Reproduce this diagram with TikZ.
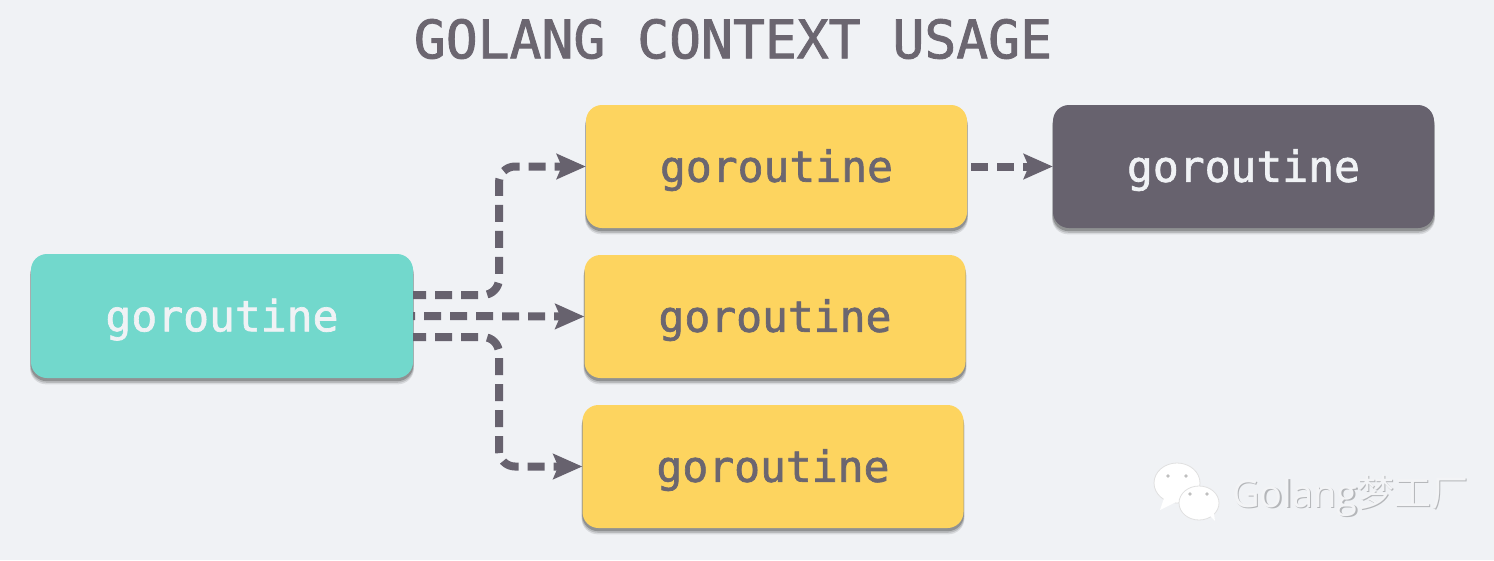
\documentclass[tikz,border=0pt]{standalone}
\usepackage{fontspec}
\usetikzlibrary{arrows.meta,shadows,positioning}
\newfontfamily\monofake[FakeBold=1.6]{DejaVu Sans Mono}
\newfontfamily\wmlatin{Open Sans}
\newfontfamily\wmcjk{Noto Sans CJK SC}
\definecolor{bgc}{HTML}{F0F2F5}
\definecolor{tealc}{HTML}{72D8CC}
\definecolor{yellowc}{HTML}{FDD45F}
\definecolor{darkc}{HTML}{67626E}
\definecolor{inkc}{HTML}{6B6670}
\definecolor{wmc}{HTML}{B4B6B9}
\definecolor{wmt}{HTML}{F3F4F6}
\tikzset{
  x=1pt,y=-1pt,
  box/.style={rounded corners=16pt,minimum width=381pt,minimum height=123pt,inner sep=0pt,
    text height=31pt,text depth=0.4pt,
    font=\monofake\fontsize{43}{43}\selectfont,
    general shadow={shadow xshift=0pt,shadow yshift=-6pt,shadow scale=1.005,opacity=.10,fill=black},
    general shadow={shadow xshift=0pt,shadow yshift=-4.5pt,shadow scale=1.004,opacity=.14,fill=black},
    general shadow={shadow xshift=0pt,shadow yshift=-3pt,shadow scale=1.002,opacity=.22,fill=black}},
  tealbox/.style={box,fill=tealc,text=bgc},
  yellowbox/.style={box,fill=yellowc,text=inkc},
  darkbox/.style={box,fill=darkc,text=bgc},
  conn/.style={draw=darkc,line width=8pt,dash pattern=on 17pt off 9pt,rounded corners=16pt,
    -{Stealth[length=29pt,width=25pt,inset=5pt,fill=darkc]}},
  titletext/.style={font=\monofake\fontsize{53}{53}\selectfont,text=inkc,inner sep=0pt},
  wmshadow/.style={text=wmc,inner sep=0pt,anchor=base west},
  wmtext/.style={text=wmt,inner sep=0pt,anchor=base west},
  bubble/.style={fill=white,draw=black!12,line width=.8pt},
  eye/.style={fill=black!25,draw=none}
}
\begin{document}
\begin{tikzpicture}
\useasboundingbox[fill=bgc] (0,0) rectangle (1494,560);
\node[titletext] (title) at (733,39) {GOLANG CONTEXT USAGE};
\node[tealbox,minimum width=382pt,minimum height=124pt] (root) at (222,316) {goroutine};
\node[yellowbox] (y1) at (776.5,166.5) {goroutine};
\node[yellowbox] (y2) at (775,316.5) {goroutine};
\node[yellowbox] (y3) at (773,466.5) {goroutine};
\node[darkbox] (d1) at (1243.5,166.5) {goroutine};
\coordinate (r1) at ([yshift=21pt]root.east);
\coordinate (r2) at (root.east);
\coordinate (r3) at ([yshift=-21pt]root.east);
\path[conn,dash phase=4pt] (r1) -- (499,295) -- (499,166.5) -- (y1.west);
\path[conn,dash phase=15pt] (r2) -- (y2.west);
\path[conn,dash phase=4pt] (r3) -- (499,337) -- (499,466.5) -- (y3.west);
\path[conn,dash phase=22pt] (y1.east) -- (d1.west);
% watermark icon
\fill[bubble] (1177,483) ellipse [x radius=23,y radius=20];
\fill[white] (1165,495) -- (1160,510) -- (1178,501) -- cycle;
\fill[bubble] (1199,503) ellipse [x radius=20,y radius=17];
\fill[white] (1206,512) -- (1215,521) -- (1213,506) -- cycle;
\fill[eye] (1168,476) circle (1.8) (1186,476) circle (1.8) (1190,494) circle (1.8) (1207,494) circle (1.8);
% watermark text
\node[wmshadow,font=\wmlatin\fontsize{38}{38}\selectfont] (wa) at (1233.2,508.4) {Golang};
\node[wmshadow,font=\wmcjk\fontsize{37}{37}\selectfont] (wb) at (1358.2,507.4) {梦工厂};
\node[wmtext,font=\wmlatin\fontsize{38}{38}\selectfont] (wc) at (1232,507) {Golang};
\node[wmtext,font=\wmcjk\fontsize{37}{37}\selectfont] (wd) at (1357,506) {梦工厂};
\end{tikzpicture}
\end{document}
